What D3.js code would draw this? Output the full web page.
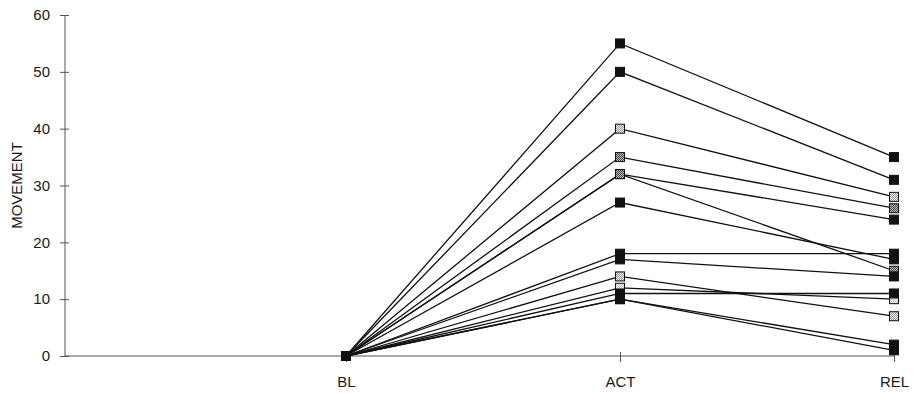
<!DOCTYPE html>
<html>
<head>
<meta charset="utf-8">
<script src="https://cdn.jsdelivr.net/npm/d3@7"></script>
<style>
  body { margin: 0; background: #fff; }
  text { font-family: "Liberation Sans", Arial, sans-serif; fill: #1a1a1a; }
</style>
</head>
<body>
<div id="chart"></div>
<script>
// phases on the x axis
const phases = ["BL", "ACT", "REL"];

// one value per subject for each phase
const blValues  = [0, 0, 0, 0, 0, 0, 0, 0, 0, 0, 0, 0, 0, 0];
const actValues = [55, 50, 40, 35, 32, 32, 27, 18, 17, 14, 12, 11, 10, 10];
const relValues = [35, 31, 28, 26, 24, 15, 17, 18, 14, 7, 10, 11, 2, 1];

const yTicks = [0, 10, 20, 30, 40, 50, 60];

// marker look per subject
const markerKind = ["black", "black", "light", "dark", "black", "dark", "black",
                    "black", "black", "light", "pale", "black", "black", "black"];

drawChart();

function drawChart() {
  const width = 913, height = 393;
  const left = 65, top = 15, bottom = 356;

  const svg = d3.select("#chart").append("svg")
    .attr("width", width)
    .attr("height", height);

  const defs = svg.append("defs");
  function checker(id, bg, fg) {
    const p = defs.append("pattern")
      .attr("id", id)
      .attr("width", 2).attr("height", 2)
      .attr("patternUnits", "userSpaceOnUse");
    p.append("rect").attr("width", 2).attr("height", 2).attr("fill", bg);
    p.append("rect").attr("width", 1).attr("height", 1).attr("fill", fg);
    p.append("rect").attr("x", 1).attr("y", 1).attr("width", 1).attr("height", 1).attr("fill", fg);
  }
  checker("pLight", "#eeeeee", "#9a9a9a");
  checker("pDark", "#bbbbbb", "#444444");
  checker("pPale", "#f4f4f4", "#c8c8c8");

  const fills = { black: "#111", light: "url(#pLight)", dark: "url(#pDark)", pale: "url(#pPale)" };

  const x = d3.scalePoint().domain(phases).range([346, 894]);
  const y = d3.scaleLinear().domain([0, 60]).range([bottom, top]);

  // y axis
  const yAxis = svg.append("g")
    .attr("transform", "translate(" + left + ",0)")
    .call(d3.axisLeft(y).tickValues(yTicks).tickSize(5).tickPadding(10));
  yAxis.select(".domain").remove();
  yAxis.selectAll(".tick line").attr("x1", -5).attr("x2", 4).attr("stroke", "#555");
  yAxis.selectAll(".tick text")
    .attr("font-size", 15)
    .attr("font-family", "Liberation Sans, Arial, sans-serif")
    .attr("fill", "#1a1a1a");
  svg.append("line")
    .attr("x1", left).attr("x2", left)
    .attr("y1", y(60)).attr("y2", y(0))
    .attr("stroke", "#555").attr("stroke-width", 1);

  // x axis
  const xAxis = svg.append("g")
    .attr("transform", "translate(0," + bottom + ")")
    .call(d3.axisBottom(x).tickSize(6).tickPadding(14));
  xAxis.select(".domain").remove();
  xAxis.selectAll(".tick line").attr("y1", -4).attr("y2", 6).attr("stroke", "#555");
  xAxis.selectAll(".tick text")
    .attr("font-size", 15)
    .attr("font-family", "Liberation Sans, Arial, sans-serif")
    .attr("fill", "#1a1a1a");
  svg.append("line")
    .attr("x1", left).attr("x2", x("REL"))
    .attr("y1", bottom).attr("y2", bottom)
    .attr("stroke", "#555").attr("stroke-width", 1);

  svg.append("text")
    .attr("transform", "translate(17," + y(30) + ") rotate(-90)")
    .attr("text-anchor", "middle")
    .attr("dy", "0.35em")
    .attr("font-size", 15)
    .text("MOVEMENT");

  const series = actValues.map(function(v, i) {
    return [
      { phase: "BL", value: blValues[i], kind: markerKind[i] },
      { phase: "ACT", value: v, kind: markerKind[i] },
      { phase: "REL", value: relValues[i], kind: markerKind[i] }
    ];
  });

  const line = d3.line()
    .x(function(d) { return x(d.phase); })
    .y(function(d) { return y(d.value); });

  svg.append("g").selectAll("path")
    .data(series)
    .enter()
    .append("path")
    .attr("d", line)
    .attr("fill", "none")
    .attr("stroke", "#111")
    .attr("stroke-width", 1.3);

  const s = 9;
  svg.append("g").selectAll("g")
    .data(series)
    .enter()
    .append("g")
    .selectAll("rect")
    .data(function(d) { return d; })
    .enter()
    .append("rect")
    .attr("x", function(d) { return x(d.phase) - s / 2; })
    .attr("y", function(d) { return y(d.value) - s / 2; })
    .attr("width", s)
    .attr("height", s)
    .attr("fill", function(d) { return d.phase === "BL" ? "#111" : fills[d.kind]; })
    .attr("stroke", "#111")
    .attr("stroke-width", 1);
}
</script>
</body>
</html>
